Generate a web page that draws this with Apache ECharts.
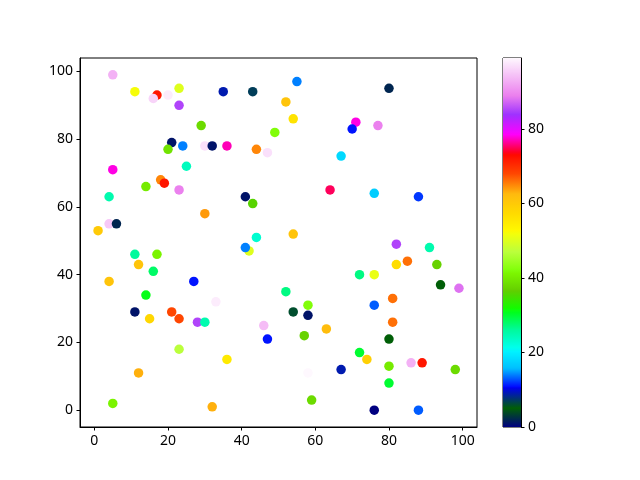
<!DOCTYPE html>
<html>
<head>
<meta charset="utf-8">
<script src="https://cdn.jsdelivr.net/npm/echarts@6/dist/echarts.min.js"></script>
<style>html,body{margin:0;padding:0;background:#fff}#chart{width:640px;height:480px}</style>
</head>
<body>
<div id="chart"></div>
<script>
// ---- data ----
const xs = [5, 11, 17, 16, 20, 23, 23, 29, 21, 20, 24, 30, 32, 5, 25, 18, 19, 35, 43, 55,
            52, 54, 49, 36, 44, 47, 67, 80, 71, 70, 77, 14, 23, 4, 30, 4, 6, 1, 11, 17,
            12, 16, 4, 27, 14, 33, 41, 43, 64, 44, 54, 42, 41, 52, 76, 88, 82, 91, 85, 82,
            93, 72, 76, 94, 99, 81, 11, 15, 21, 23, 28, 30, 23, 12, 5, 32, 58, 54, 58, 46,
            63, 57, 47, 36, 67, 58, 59, 76, 81, 80, 72, 74, 80, 86, 89, 98, 80, 76, 88];
const ys = [99, 94, 93, 92, 93, 95, 90, 84, 79, 77, 78, 78, 78, 71, 72, 68, 67, 94, 94, 97,
            91, 86, 82, 78, 77, 76, 75, 95, 85, 83, 84, 66, 65, 63, 58, 55, 55, 53, 46, 46,
            43, 41, 38, 38, 34, 32, 63, 61, 65, 51, 52, 47, 48, 35, 64, 63, 49, 48, 44, 43,
            43, 40, 40, 37, 36, 33, 29, 27, 29, 27, 26, 26, 18, 11, 2, 1, 31, 29, 28, 25,
            24, 22, 21, 15, 12, 11, 3, 31, 26, 21, 17, 15, 13, 14, 14, 12, 8, 0, 0];
const cs = [93, 52, 72, 96, 98, 50, 85, 38, 1, 39, 14, 97, 1, 78, 24, 65, 72, 9, 7, 14,
            61, 56, 42, 77, 65, 97, 18, 2, 78, 11, 89, 40, 89, 25, 64, 95, 2, 60, 26, 41,
            61, 28, 61, 11, 31, 98, 1, 36, 75, 23, 61, 50, 14, 27, 17, 12, 85, 25, 66, 57,
            37, 27, 51, 5, 88, 66, 1, 58, 68, 68, 85, 25, 47, 63, 41, 63, 42, 6, 1, 94,
            62, 37, 11, 55, 9, 99, 38, 13, 66, 5, 30, 59, 40, 93, 72, 38, 30, 0, 13];
const xTicks = [0, 20, 40, 60, 80, 100];
const yTicks = [0, 20, 40, 60, 80, 100];
const cTicks = [0, 20, 40, 60, 80];

// ---- gist_ncar colormap (matplotlib segment data) ----
const NCAR = {
  r: [[0,0],[0.3098,0],[0.3725,0.3993],[0.4235,0.5003],[0.5333,1],[0.7922,1],[0.8471,0.6218],[0.8980,0.9235],[1,0.9961]],
  g: [[0,0],[0.0510,0.3722],[0.1059,0],[0.1569,0.7202],[0.1608,0.7537],[0.1647,0.7752],[0.2157,1],[0.2588,0.9804],[0.2706,0.9804],[0.3176,1],[0.3686,0.8081],[0.4275,1],[0.5216,1],[0.6314,0.7292],[0.6863,0.2796],[0.7451,0],[0.7922,0],[0.8431,0.1753],[0.8980,0.5],[1,0.9725]],
  b: [[0,0.5020],[0.0510,0.0222],[0.1098,1],[0.2039,1],[0.2627,0.6145],[0.3216,0],[0.4157,0],[0.4745,0.2342],[0.5333,0],[0.5804,0],[0.6314,0.0549],[0.6902,0],[0.7373,0],[0.7922,0.9725],[0.8,1],[0.8431,1],[0.8980,0.9341],[1,0.9961]]
};
function seg(s, t) {
  for (let i = 1; i < s.length; i++) {
    if (t <= s[i][0]) {
      const a = s[i-1], b = s[i];
      const f = (t - a[0]) / (b[0] - a[0] || 1);
      return a[1] + f * (b[1] - a[1]);
    }
  }
  return s[s.length-1][1];
}
function ncar(t) {
  const c = v => Math.round(Math.max(0, Math.min(1, v)) * 255);
  return 'rgb(' + c(seg(NCAR.r, t)) + ',' + c(seg(NCAR.g, t)) + ',' + c(seg(NCAR.b, t)) + ')';
}
const N = 256;
const palette = [];
for (let i = 0; i < N; i++) palette.push(ncar(i / (N - 1)));
const gradStops = palette.map((col, i) => ({ offset: i / (N - 1), color: col }));

const cMin = Math.min(...cs), cMax = Math.max(...cs);
const points = xs.map((x, i) => [x, ys[i], cs[i]]);

const FONT = 'Noto Sans';
const chart = echarts.init(document.getElementById('chart'), null, { renderer: 'canvas' });
chart.setOption({
  animation: false,
  backgroundColor: '#ffffff',
  grid: [
    { left: 80, top: 58, width: 397, height: 369, show: true, borderColor: '#000', borderWidth: 1, backgroundColor: 'transparent' },
    { left: 503, top: 58, width: 18, height: 369, show: true, borderColor: '#000', borderWidth: 1, backgroundColor: 'transparent' }
  ],
  xAxis: [
    {
      type: 'value', gridIndex: 0, min: -3.9, max: 103.9,
      axisLine: { show: true, onZero: false, lineStyle: { color: '#000', width: 1 } },
      axisTick: { show: true, length: 3.5, customValues: xTicks, lineStyle: { color: '#000' } },
      axisLabel: { customValues: xTicks, color: '#000', fontSize: 14, fontFamily: FONT, margin: 7 },
      splitLine: { show: false }
    },
    { type: 'category', gridIndex: 1, data: ['c'], show: false, boundaryGap: true }
  ],
  yAxis: [
    {
      type: 'value', gridIndex: 0, min: -4.95, max: 103.95,
      axisLine: { show: true, onZero: false, lineStyle: { color: '#000', width: 1 } },
      axisTick: { show: true, length: 3.5, customValues: yTicks, lineStyle: { color: '#000' } },
      axisLabel: { customValues: yTicks, color: '#000', fontSize: 14, fontFamily: FONT, margin: 7 },
      splitLine: { show: false }
    },
    {
      type: 'value', gridIndex: 1, position: 'right', min: cMin, max: cMax,
      axisLine: { show: true, lineStyle: { color: '#000', width: 1 } },
      axisTick: { show: true, length: 3.5, customValues: cTicks, lineStyle: { color: '#000' } },
      axisLabel: { customValues: cTicks, color: '#000', fontSize: 14, fontFamily: FONT, margin: 7 },
      splitLine: { show: false }
    }
  ],
  visualMap: {
    show: false, type: 'continuous', seriesIndex: 0, dimension: 2,
    min: cMin, max: cMax, inRange: { color: palette }
  },
  series: [
    {
      type: 'scatter', xAxisIndex: 0, yAxisIndex: 0,
      symbol: 'circle', symbolSize: 9.5,
      itemStyle: { opacity: 1 },
      data: points
    },
    {
      type: 'bar', xAxisIndex: 1, yAxisIndex: 1,
      barWidth: '100%', silent: true,
      itemStyle: { color: new echarts.graphic.LinearGradient(0, 1, 0, 0, gradStops) },
      data: [cMax]
    }
  ]
});
</script>
</body>
</html>
